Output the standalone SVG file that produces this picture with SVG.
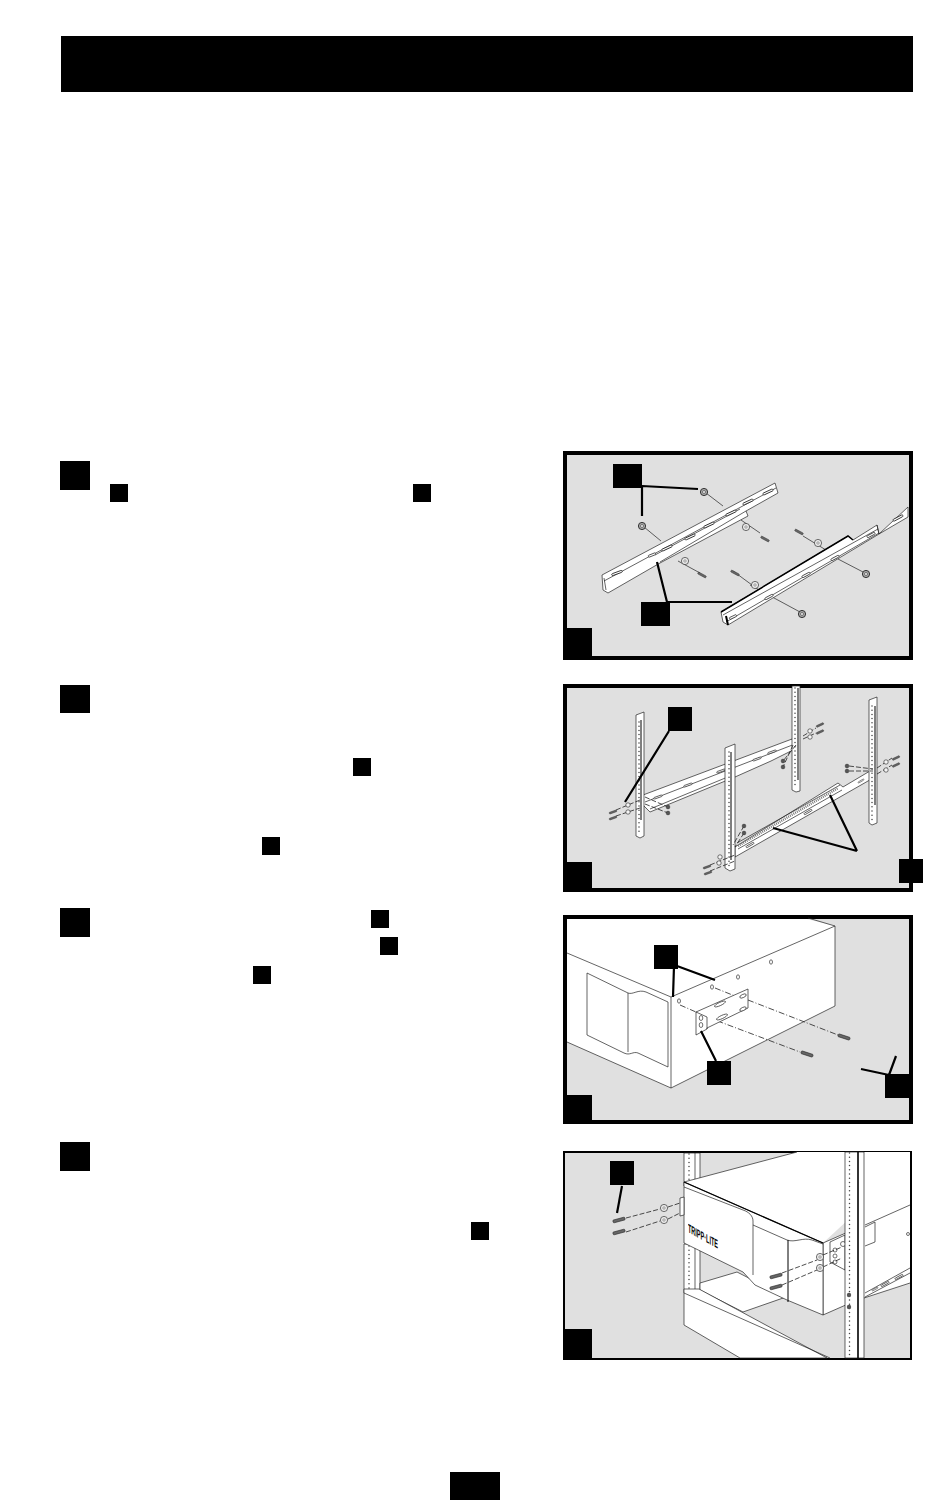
<svg xmlns="http://www.w3.org/2000/svg" width="950" height="1508" viewBox="0 0 950 1508">
<style>
.panel{fill:#e0e0e0;stroke:#000;stroke-width:4}
.w{fill:#fff;stroke:#222;stroke-width:.7}
.l{fill:none;stroke:#222;stroke-width:.7}
.d{fill:none;stroke:#222;stroke-width:.8;stroke-dasharray:5 2}
.lead{fill:none;stroke:#000;stroke-width:2.200}
.hole{fill:#fff;stroke:#333;stroke-width:.7}
.dots{fill:none;stroke:#444;stroke-width:1.500;stroke-linecap:round;stroke-dasharray:0 4.200}
.logo{font-family:"Liberation Sans",Arial,sans-serif;font-weight:700;font-size:12px;fill:#000}
</style>
<defs>
<g id="washer"><circle r="3.600" fill="#ececec" stroke="#333" stroke-width=".7"/><circle r="1.200" fill="#fff" stroke="#444" stroke-width=".5"/></g>
<g id="nut"><circle r="3.600" fill="#aaa" stroke="#222" stroke-width=".9"/><circle r="1.500" fill="#eee" stroke="#222" stroke-width=".5"/></g>
<rect id="screw" x="-6.500" y="-1.500" width="13" height="3" rx="1" fill="#666" stroke="#222" stroke-width=".6"/>
<rect id="slot" x="-5.500" y="-1" width="11" height="2" rx="1" fill="#fff" stroke="#222" stroke-width=".8"/>
</defs>

<rect id="header" x="61" y="36" width="852" height="56" fill="#000"/>
<rect id="page-number" x="450" y="1472" width="50" height="28" fill="#000"/>

<g id="step-markers" fill="#000">
<rect x="60" y="461" width="30" height="29"/>
<rect x="60" y="685" width="30" height="28"/>
<rect x="60" y="908" width="30" height="29"/>
<rect x="60" y="1142" width="30" height="29"/>
<rect x="110" y="484" width="18" height="18"/>
<rect x="413" y="484" width="18" height="18"/>
<rect x="353" y="758" width="18" height="18"/>
<rect x="262" y="837" width="18" height="18"/>
<rect x="371" y="910" width="18" height="18"/>
<rect x="380" y="937" width="18" height="18"/>
<rect x="253" y="966" width="18" height="18"/>
<rect x="471" y="1222" width="18" height="18"/>
</g>

<g id="figure-1">
<rect class="panel" x="565" y="453" width="346" height="205"/>
<path class="l" d="M706 493L723 506M644 527L661 541M741 520L760 533M678 561L700 573M733 571L752 585M750 585L800 612M803 536L826 550M838 559L863 572"/>
<path class="w" d="M602 575L775 483L778 493L746 511L748 516L660 563L608 593L603 590Z"/>
<path class="l" d="M604 581L776 488M606 590L604 578M660 562L746 511M655 555L740 509"/>
<use href="#slot" transform="translate(617,573) rotate(-20)"/>
<use href="#slot" transform="translate(652,555) rotate(-22) scale(.7,1)"/>
<use href="#slot" transform="translate(667,548) rotate(-25)"/>
<use href="#slot" transform="translate(690,537) rotate(-25)"/>
<use href="#slot" transform="translate(709,525) rotate(-25)"/>
<use href="#slot" transform="translate(731,513) rotate(-25)"/>
<use href="#slot" transform="translate(748,502) rotate(-25)"/>
<use href="#slot" transform="translate(768,492) rotate(-25)"/>
<path class="w" d="M721 612L848 536L853 540L877 525L879 534L908 507V517L879 534L728 625L723 622Z"/>
<path class="l" d="M723 615L878 529M726 622L879 533M877 525L879 534"/>
<path d="M721 612L848 536L853 540" fill="none" stroke="#000" stroke-width="1.500"/>
<path d="M726 616L728 625" stroke="#000" stroke-width="2"/>
<use href="#slot" transform="translate(733,617) rotate(-25) scale(.7,1)"/>
<use href="#slot" transform="translate(769,597) rotate(-28) scale(.8,1)"/>
<use href="#slot" transform="translate(806,575) rotate(-28) scale(.8,1)"/>
<use href="#slot" transform="translate(835,558) rotate(-28) scale(.8,1)"/>
<use href="#slot" transform="translate(871,535) rotate(-28) scale(.8,1)"/>
<use href="#slot" transform="translate(898,518) rotate(-28)"/>
<use href="#nut" x="704" y="492"/><use href="#nut" x="642" y="526"/>
<use href="#washer" x="746" y="527"/><use href="#washer" x="685" y="561"/>
<use href="#washer" x="755" y="585"/><use href="#washer" x="818" y="543"/>
<use href="#nut" x="866" y="574"/><use href="#nut" x="802" y="614"/>
<use href="#screw" transform="translate(765,539) rotate(28) scale(.7)"/>
<use href="#screw" transform="translate(702,575) rotate(28) scale(.7)"/>
<use href="#screw" transform="translate(735,573) rotate(28) scale(.7)"/>
<use href="#screw" transform="translate(799,532) rotate(28) scale(.7)"/>
<g id="fig1-leaders"><path class="lead" d="M642 486L698 489M642 486V516M657 562L667 602M668 602H732"/></g>
<g id="fig1-labels" fill="#000"><rect x="613" y="464" width="29" height="24"/><rect x="641" y="602" width="29" height="24"/><rect x="563" y="628" width="29" height="32"/></g>
</g>

<g id="figure-2">
<rect class="panel" x="565" y="686" width="346" height="204"/>
<path class="w" d="M643 795L792 739L797 748L771 761L735 777L650 812L643 805Z"/>
<path class="l" d="M645 802L795 744M650 809L735 774"/>
<path class="w" d="M735 847L838 783L843 787L875 768V777L735 857Z"/>
<path class="l" d="M737 843L840 785M738 849L842 790"/>
<path d="M738 846L838 788" fill="none" stroke="#777" stroke-width="2.500" stroke-dasharray="1 1"/>
<use href="#slot" transform="translate(658,797) rotate(-20) scale(.8)"/>
<use href="#slot" transform="translate(688,785) rotate(-20) scale(.8)"/>
<use href="#slot" transform="translate(721,771) rotate(-20) scale(.8)"/>
<use href="#slot" transform="translate(757,759) rotate(-20) scale(.8)"/>
<use href="#slot" transform="translate(772,752) rotate(-20) scale(.8)"/>
<use href="#slot" transform="translate(750,845) rotate(-30) scale(.8)"/>
<use href="#slot" transform="translate(808,812) rotate(-30) scale(.8)"/>
<use href="#slot" transform="translate(861,781) rotate(-30) scale(.6)"/>
<g id="fig2-posts">
<path class="w" d="M636 715L644 712V836L640 838L636 836Z"/>
<path class="w" d="M725 748L735 744V869L730 871L725 868Z"/>
<path class="w" d="M792 686H800V791L796 792L792 790Z"/>
<path class="w" d="M869 700L877 697V823L872 825L869 823Z"/>
<path class="dots" d="M639 722V835M729 752V866M795 688V788M872 706V822"/>
<path stroke="#000" stroke-width="1" d="M641 720V820M731 752V860M798 688V780M875 706V805"/>
</g>
<path class="d" d="M645 797L668 807M645 804L668 813M616 810L640 800M616 816L640 808M796 745L783 761M793 745L783 767M803 736L816 728M803 739L816 733M849 766L873 769M849 771L873 771M877 768L892 758M877 774L892 765M710 865L735 855M710 871L735 861M744 826L733 845M744 833L735 847"/>
<g fill="#555" stroke="#222" stroke-width=".4"><circle cx="668" cy="807" r="1.900"/><circle cx="668" cy="813" r="1.900"/><circle cx="783" cy="761" r="1.900"/><circle cx="783" cy="767" r="1.900"/><circle cx="847" cy="766" r="1.900"/><circle cx="847" cy="771" r="1.900"/><circle cx="744" cy="826" r="1.900"/><circle cx="744" cy="833" r="1.900"/></g>
<g fill="#f4f4f4" stroke="#222" stroke-width=".6"><circle cx="628" cy="805" r="2.200"/><circle cx="628" cy="812" r="2.200"/><circle cx="810" cy="731" r="2.200"/><circle cx="810" cy="737" r="2.200"/><circle cx="886" cy="762" r="2.200"/><circle cx="886" cy="770" r="2.200"/><circle cx="720" cy="857" r="2.200"/><circle cx="719" cy="863" r="2.200"/></g>
<use href="#screw" transform="translate(613,812) rotate(-20) scale(.6)"/>
<use href="#screw" transform="translate(613,818) rotate(-20) scale(.6)"/>
<use href="#screw" transform="translate(820,725) rotate(-25) scale(.6)"/>
<use href="#screw" transform="translate(820,732) rotate(-25) scale(.6)"/>
<use href="#screw" transform="translate(896,758) rotate(-25) scale(.6)"/>
<use href="#screw" transform="translate(896,765) rotate(-25) scale(.6)"/>
<use href="#screw" transform="translate(707,867) rotate(-20) scale(.6)"/>
<use href="#screw" transform="translate(708,873) rotate(-20) scale(.6)"/>
<g id="fig2-leaders"><path class="lead" d="M669 731L625 802M857 851L830 795M857 851L773 828"/></g>
<g id="fig2-labels" fill="#000"><rect x="668" y="707" width="24" height="24"/><rect x="563" y="862" width="29" height="30"/><rect x="899" y="859" width="24" height="24"/></g>
</g>

<g id="figure-3">
<rect class="panel" x="565" y="917" width="346" height="205"/>
<path d="M567 919H807L835 926V1006L671 1088L567 1042Z" fill="#fff"/>
<path class="l" d="M808 918L835 926V1006L671 1088V997L835 926M567 953L671 997M567 1042L671 1088"/>
<path class="l" d="M587 973L628 993C633 995 638 989 646 992L668 1002V1067L638 1053C633 1051 630 1056 624 1053L587 1035Z"/>
<path class="l" d="M628 993V1052"/>
<path class="d" style="stroke-dasharray:6 2 1 2" d="M680 1005L696 1012M707 1017L800 1052M715 988L740 998M748 1000L838 1035"/>
<path class="w" d="M696 1012L748 989V1008L707 1028V1029L696 1035Z"/>
<path class="l" d="M696 1012L707 1017V1029"/>
<g class="hole"><ellipse cx="701" cy="1018" rx="1.800" ry="2.500"/><ellipse cx="701" cy="1025" rx="1.800" ry="2.500"/><ellipse cx="720" cy="1004" rx="6" ry="1.600" transform="rotate(-25 720 1004)"/><ellipse cx="722" cy="1017" rx="6" ry="1.600" transform="rotate(-25 722 1017)"/><ellipse cx="743" cy="996" rx="3.500" ry="1.600" transform="rotate(-25 743 996)"/><ellipse cx="743" cy="1009" rx="3.500" ry="1.600" transform="rotate(-25 743 1009)"/><ellipse cx="679" cy="1001" rx="1.500" ry="2.200"/><ellipse cx="712" cy="987" rx="1.500" ry="2.200"/><ellipse cx="738" cy="977" rx="1.500" ry="2.200"/><ellipse cx="771" cy="962" rx="1.500" ry="2.200"/></g>
<use href="#screw" transform="translate(807,1054) rotate(18) scale(.95)"/>
<use href="#screw" transform="translate(844,1037) rotate(18) scale(.95)"/>
<g id="fig3-leaders"><path class="lead" d="M674 966L673 997M677 966L715 980M701 1031L716 1061M889 1075L861 1069M889 1075L896 1056"/></g>
<g id="fig3-labels" fill="#000"><rect x="654" y="945" width="24" height="24"/><rect x="707" y="1061" width="24" height="24"/><rect x="885" y="1074" width="25" height="24"/><rect x="563" y="1095" width="29" height="29"/></g>
</g>

<g id="figure-4">
<rect x="564" y="1152" width="347" height="207" fill="#e0e0e0" stroke="#000" stroke-width="2"/>
<path class="w" d="M684 1153H700V1182L684 1186Z"/>
<path class="w" d="M684 1244H700V1293H684Z"/>
<path class="l" d="M695 1153V1182M695 1248V1293"/>
<path class="dots" d="M689 1154V1184M689 1246V1290"/>
<path d="M700 1283L737 1272L786 1297L743 1312L700 1290Z" fill="#fff" stroke="#222" stroke-width=".7"/>
<path d="M684 1289H699L827 1358H740L684 1325Z" fill="#fff" stroke="#222" stroke-width=".7"/>
<path class="l" d="M684 1293L830 1358"/>
<path d="M864 1152H910V1283L864 1298Z" fill="#fff"/>
<path class="l" d="M865 1293L910 1268M865 1297L910 1273M864 1298L910 1283"/>
<path d="M684 1182L797 1152H864V1205L823 1243Z" fill="#fff" stroke="none"/>
<path class="l" d="M684 1182L797 1152"/>
<path d="M823 1243L848 1232V1304L823 1315Z" fill="#fff" stroke="#222" stroke-width=".7"/>
<path d="M684 1182L823 1243V1315L787 1300L755 1285L743 1272L684 1243Z" fill="#fff" stroke="#222" stroke-width=".7"/>
<path d="M684 1182L823 1243" fill="none" stroke="#000" stroke-width="1.300"/>
<path class="l" d="M684 1187L743 1210C749 1212 753 1216 753 1221V1275M753 1225L787 1240C795 1243 803 1237 812 1240L823 1244"/>
<path d="M788 1240V1302" fill="none" stroke="#000" stroke-width="1"/>
<path class="l" d="M865 1225L910 1205M865 1227L875 1222V1242L865 1246"/>
<circle class="hole" cx="908" cy="1234" r="1.500"/>
<path class="w" d="M830 1242L845 1235V1270L830 1262Z"/>
<circle class="hole" cx="835" cy="1250" r="2"/><circle class="hole" cx="835" cy="1256" r="2"/><circle class="hole" cx="835" cy="1262" r="2"/><circle class="hole" cx="843" cy="1244" r="2.500"/>
<g id="fig4-post"><path class="w" d="M845 1152H864V1358H845Z"/>
<path class="dots" d="M849.500 1153V1357"/>
<path d="M858 1152V1358" stroke="#000" stroke-width="1.600"/>
<circle cx="849" cy="1295" r="2.200" fill="#555"/><circle cx="849" cy="1307" r="2.200" fill="#555"/></g>
<use href="#slot" transform="translate(875,1289) rotate(-28) scale(.6)"/>
<use href="#slot" transform="translate(885,1284) rotate(-28) scale(.8)"/>
<use href="#slot" transform="translate(899,1277) rotate(-28) scale(.8)"/>
<path class="d" d="M626 1218L660 1209M626 1232L660 1221M668 1207L680 1203M668 1219L680 1213M782 1273L817 1260M782 1285L817 1270M823 1255L842 1247M823 1267L842 1258"/>
<use href="#washer" x="664" y="1208"/><use href="#washer" x="664" y="1220"/><use href="#washer" x="820" y="1257"/><use href="#washer" x="820" y="1268"/>
<use href="#screw" transform="translate(619,1220) rotate(-15) scale(.95)"/>
<use href="#screw" transform="translate(619,1232) rotate(-15) scale(.95)"/>
<use href="#screw" transform="translate(776,1276) rotate(-15) scale(.95)"/>
<use href="#screw" transform="translate(776,1287) rotate(-15) scale(.95)"/>
<path class="w" d="M680 1198L684 1197V1215L680 1216Z"/>
<text class="logo" transform="translate(688,1232) skewY(29)" textLength="30" lengthAdjust="spacingAndGlyphs" opacity=".99">TRIPP·LITE</text>
<g id="fig4-leaders"><path class="lead" d="M622 1186L617 1213"/></g>
<g id="fig4-labels" fill="#000"><rect x="610" y="1161" width="24" height="24"/><rect x="563" y="1329" width="29" height="31"/></g>
</g>
</svg>
